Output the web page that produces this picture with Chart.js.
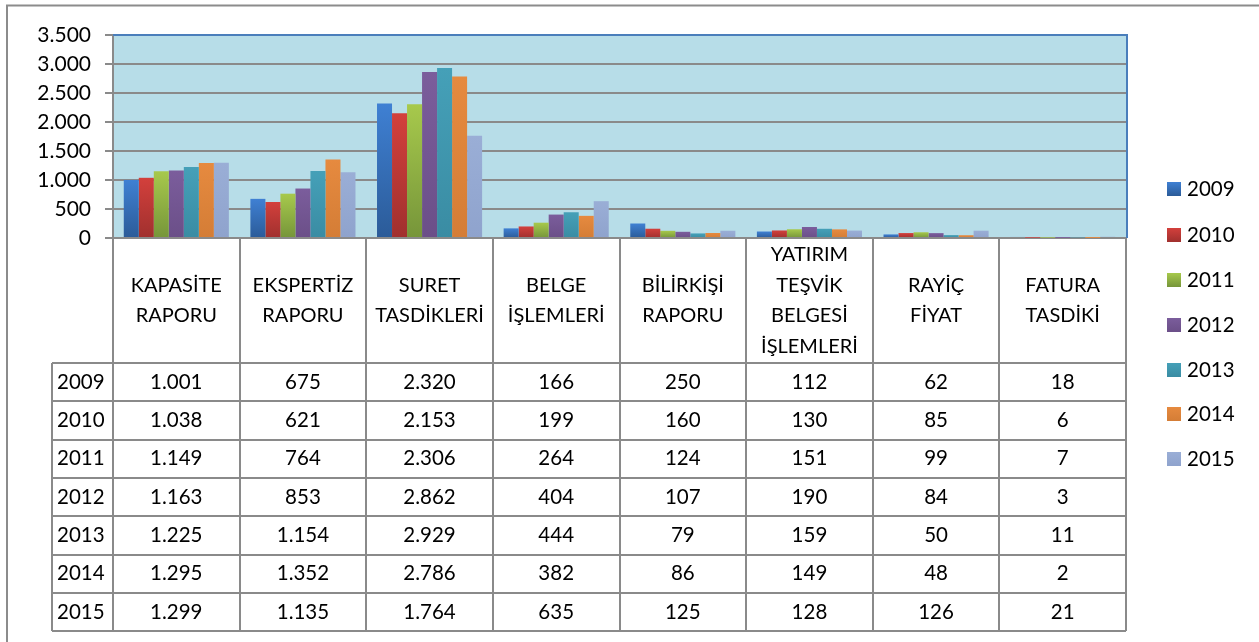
<!DOCTYPE html>
<html><head><meta charset="utf-8">
<script src="https://cdn.jsdelivr.net/npm/chart.js@4"></script>
<style>html,body{margin:0;padding:0;background:#fff;}#wrap{width:1259px;height:642px;position:relative;}</style>
</head><body><div id="wrap"><canvas id="c" width="1259" height="642"></canvas></div>
<script>
const categories = [["KAPASİTE","RAPORU"],["EKSPERTİZ","RAPORU"],["SURET","TASDİKLERİ"],["BELGE","İŞLEMLERİ"],["BİLİRKİŞİ","RAPORU"],["YATIRIM","TEŞVİK","BELGESİ","İŞLEMLERİ"],["RAYİÇ","FİYAT"],["FATURA","TASDİKİ"]];
const years = ["2009","2010","2011","2012","2013","2014","2015"];
const v2009 = [1001, 675, 2320, 166, 250, 112, 62, 18];
const v2010 = [1038, 621, 2153, 199, 160, 130, 85, 6];
const v2011 = [1149, 764, 2306, 264, 124, 151, 99, 7];
const v2012 = [1163, 853, 2862, 404, 107, 190, 84, 3];
const v2013 = [1225, 1154, 2929, 444, 79, 159, 50, 11];
const v2014 = [1295, 1352, 2786, 382, 86, 149, 48, 2];
const v2015 = [1299, 1135, 1764, 635, 125, 128, 126, 21];
const yTicks = [0, 500, 1000, 1500, 2000, 2500, 3000, 3500];

const seriesValues = [v2009, v2010, v2011, v2012, v2013, v2014, v2015];
const colTop = ["#3f80d3","#d3403c","#a7c94c","#7b5d9c","#45a0b8","#e68a3f","#9aaed6"];
const colBot = ["#2b5b98","#a0302e","#76953a","#6b4f88","#3a8ca3","#d47d36","#8fa3cd"];
const FONT = "Lato, 'Open Sans', sans-serif";

function fmt(n){ return String(n).replace(/\B(?=(\d{3})+(?!\d))/g, "."); }

function grad(i){
  return function(ctx){
    const chart = ctx.chart;
    if (!chart.chartArea || ctx.raw === undefined) return colTop[i];
    const ys = chart.scales.y;
    const t = ys.getPixelForValue(ctx.raw), b = ys.getPixelForValue(0);
    if (!(b > t)) return colBot[i];
    const g = chart.ctx.createLinearGradient(0, t, 0, b);
    g.addColorStop(0, colTop[i]); g.addColorStop(1, colBot[i]);
    return g;
  };
}

const TABLE_TOP = 238, HEADER_BOTTOM = 363, ROW_H = 38.3, LEFT_COL = 52;

const tablePlugin = {
  id: 'tablePlugin',
  beforeDraw(chart){
    const {ctx, chartArea:a} = chart;
    ctx.save();
    ctx.fillStyle = '#b7dde8';
    ctx.fillRect(a.left, a.top, a.right - a.left, a.bottom - a.top);
    ctx.restore();
  },
  afterDraw(chart){
    const {ctx, chartArea:a} = chart;
    const xs = chart.scales.x;
    const n = categories.length;
    const bottom = HEADER_BOTTOM + ROW_H * years.length;
    ctx.save();
    ctx.strokeStyle = '#8c8c8c'; ctx.lineWidth = 2;
    ctx.beginPath(); ctx.moveTo(7, 650); ctx.lineTo(7, 5.5); ctx.lineTo(1265, 5.5); ctx.stroke();
    ctx.strokeStyle = '#4a7ebb'; ctx.lineWidth = 2;
    ctx.beginPath(); ctx.moveTo(a.left, a.top); ctx.lineTo(a.right + 1, a.top); ctx.lineTo(a.right + 1, a.bottom); ctx.stroke();
    ctx.strokeStyle = '#8a8a8a'; ctx.lineWidth = 2;
    ctx.beginPath();
    for (let i = 0; i <= n; i++) {
      const x = i < n ? xs.getPixelForValue(i) - (xs.getPixelForValue(1) - xs.getPixelForValue(0)) / 2 : a.right;
      ctx.moveTo(Math.round(x), TABLE_TOP); ctx.lineTo(Math.round(x), bottom);
    }
    for (let r = 0; r <= years.length; r++) {
      const y = Math.round(HEADER_BOTTOM + r * ROW_H);
      ctx.moveTo(LEFT_COL, y); ctx.lineTo(a.right, y);
    }
    ctx.moveTo(LEFT_COL, HEADER_BOTTOM); ctx.lineTo(LEFT_COL, bottom);
    ctx.stroke();
    ctx.fillStyle = '#000';
    ctx.font = '20px ' + FONT;
    ctx.textAlign = 'center'; ctx.textBaseline = 'middle';
    const headMid = (TABLE_TOP + HEADER_BOTTOM) / 2;
    categories.forEach((lines, i) => {
      const x = xs.getPixelForValue(i);
      const lh = 30.5;
      const y0 = headMid - (lines.length - 1) * lh / 2;
      lines.forEach((t, k) => ctx.fillText(t, x, y0 + k * lh));
    });
    ctx.font = '20.5px ' + FONT;
    years.forEach((yr, r) => {
      const yc = HEADER_BOTTOM + r * ROW_H + ROW_H / 2;
      ctx.textAlign = 'left';
      ctx.fillText(yr, LEFT_COL + 5, yc);
      ctx.textAlign = 'center';
      seriesValues[r].forEach((v, i) => ctx.fillText(fmt(v), xs.getPixelForValue(i), yc));
    });
    const legY = [189, 235, 280, 325, 370, 414, 459];
    years.forEach((yr, i) => {
      const g = ctx.createLinearGradient(0, legY[i] - 7, 0, legY[i] + 7);
      g.addColorStop(0, colTop[i]); g.addColorStop(1, colBot[i]);
      ctx.fillStyle = g;
      ctx.fillRect(1167, legY[i] - 7, 14, 14);
      ctx.fillStyle = '#000'; ctx.textAlign = 'left';
      ctx.fillText(yr, 1187, legY[i]);
    });
    ctx.restore();
  }
};

new Chart(document.getElementById('c'), {
  type: 'bar',
  data: {
    labels: categories.map(c => c.join(' ')),
    datasets: years.map((yr, i) => ({ label: yr, data: seriesValues[i], backgroundColor: grad(i), borderWidth: 0 }))
  },
  options: {
    responsive: false, animation: false,
    layout: { padding: { left: 0, top: 35, right: 133, bottom: 404 } },
    plugins: { legend: { display: false }, tooltip: { enabled: false } },
    datasets: { bar: { categoryPercentage: 0.83, barPercentage: 1.0 } },
    scales: {
      x: { ticks: { display: false }, grid: { display: false }, border: { display: false },
           afterFit(s){ s.height = 0; } },
      y: { min: 0, max: 3500,
           afterFit(s){ s.width = 113; },
           afterBuildTicks(s){ s.ticks = yTicks.map(v => ({ value: v })); },
           ticks: { color: '#000', font: { family: FONT, size: 21 }, padding: 14, callback: v => fmt(v) },
           grid: { color: '#8a8a8a', lineWidth: 2, tickLength: 8, drawOnChartArea: true },
           border: { display: true, color: '#8a8a8a', width: 2 } }
    }
  },
  plugins: [tablePlugin]
});
</script></body></html>
